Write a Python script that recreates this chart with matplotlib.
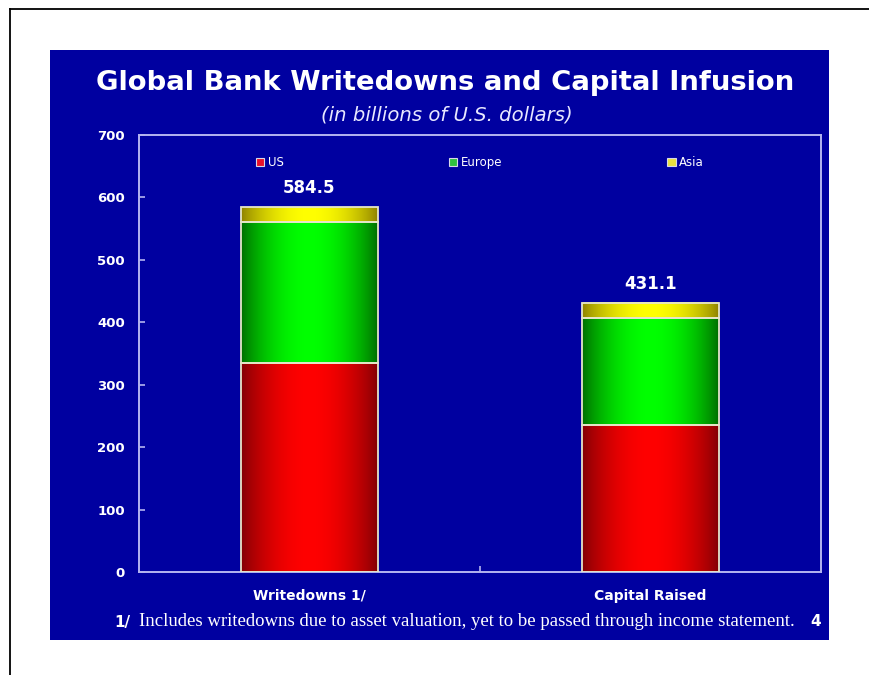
import numpy as np
import matplotlib
matplotlib.use('Agg')
import matplotlib.pyplot as plt
from matplotlib.patches import Rectangle, Patch
from matplotlib.lines import Line2D

# ---------------- data ----------------
categories = ['Writedowns 1/', 'Capital Raised']
series_names = ['US', 'Europe', 'Asia']
us_vals = [335.0, 235.0]
europe_vals = [225.5, 172.0]
asia_vals = [24.0, 24.1]
total_labels = ['584.5', '431.1']
yticks = [0, 100, 200, 300, 400, 500, 600, 700]

title = 'Global Bank Writedowns and Capital Infusion'
subtitle = '(in billions of U.S. dollars)'
footnote_mark = '1/'
footnote = 'Includes writedowns due to asset valuation, yet to be passed through income statement.'
page_no = '4'

# ---------------- style ----------------
W, H = 869, 675
BLUE = '#0000a0'
SPINE = '#b4b4f0'
bright = {'US': (1.0, 0.0, 0.0), 'Europe': (0.0, 1.0, 0.0), 'Asia': (1.0, 1.0, 0.0)}
dark = {'US': (0.50, 0.0, 0.02), 'Europe': (0.0, 0.42, 0.0), 'Asia': (0.55, 0.50, 0.0)}
legend_col = {'US': '#e8102a', 'Europe': '#30c040', 'Asia': '#e8e040'}

fig = plt.figure(figsize=(W / 100, H / 100), dpi=100)
fig.patch.set_facecolor('white')


def fx(x):
    return x / W


def fy(y):
    return 1 - y / H


# frame lines and blue panel
fig.add_artist(Line2D([fx(10), fx(869)], [fy(9), fy(9)], color='black', lw=1.3))
fig.add_artist(Line2D([fx(10), fx(10)], [fy(9), fy(675)], color='black', lw=1.3))
fig.add_artist(Rectangle((fx(50), fy(640)), fx(829) - fx(50), fy(50) - fy(640),
                         facecolor=BLUE, edgecolor='none', zorder=-1))

ax = fig.add_axes([fx(139), fy(572), (821 - 139) / W, (572 - 135) / H])
ax.set_facecolor(BLUE)

x = np.arange(len(categories))
bw = 0.40
bottoms = np.zeros(len(categories))
t = np.linspace(0, 1, 200)
prof = np.sin(np.pi * t) ** 0.8
all_patches = []
for name, vals in zip(series_names, [us_vals, europe_vals, asia_vals]):
    bars = ax.bar(x, vals, bw, bottom=bottoms, color=legend_col[name], edgecolor='none', zorder=2)
    d = np.array(dark[name])
    b = np.array(bright[name])
    grad = d[None, :] + (b - d)[None, :] * prof[:, None]
    grad = grad[None, :, :]
    for p in bars.patches:
        x0, y0, w, h = p.get_x(), p.get_y(), p.get_width(), p.get_height()
        ax.imshow(grad, extent=[x0, x0 + w, y0, y0 + h], aspect='auto',
                  interpolation='bilinear', zorder=2.5)
        all_patches.append((x0, y0, w, h))
    bottoms = bottoms + np.array(vals)

# light outlines on each segment
for (x0, y0, w, h) in all_patches:
    ax.add_patch(Rectangle((x0, y0), w, h, fill=False, edgecolor='#e6e6c8', lw=1.3, zorder=3))

ax.set_xlim(-0.5, 1.5)
ax.set_ylim(0, 700)

# value labels on top
for xi, tot, lab in zip(x, bottoms, total_labels):
    ax.annotate(lab, (xi, tot), xytext=(0, 7), textcoords='offset points',
                ha='center', va='bottom', color='white', fontsize=12,
                fontweight='bold', zorder=4)

for s in ax.spines.values():
    s.set_color(SPINE)
    s.set_linewidth(1.4)

ax.set_yticks(yticks)
ax.set_yticklabels([str(v) for v in yticks])
ax.tick_params(axis='y', direction='in', length=4, width=1.2, color=SPINE,
               labelcolor='white', labelsize=9.5, pad=10)
for lab in ax.get_yticklabels():
    lab.set_fontweight('bold')

ax.set_xticks(x)
ax.set_xticklabels(categories)
ax.tick_params(axis='x', length=0, labelcolor='white', labelsize=10, pad=12)
for lab in ax.get_xticklabels():
    lab.set_fontweight('bold')
ax.set_xticks([0.5], minor=True)
ax.tick_params(axis='x', which='minor', direction='in', length=4, width=1.2, color=SPINE)

handles = [Patch(facecolor=legend_col[n], edgecolor='#d8d8e8', linewidth=0.8) for n in series_names]
leg = ax.legend(handles, series_names, loc='center', bbox_to_anchor=(0.5, 1 - (163 - 135) / 437),
                ncol=3, frameon=False, handlelength=0.7, handleheight=0.7, handletextpad=0.3,
                columnspacing=14.0, fontsize=8.5)
for tx in leg.get_texts():
    tx.set_color('white')

# titles and footnote
t_title = fig.text(fx(445), fy(83), title, ha='center', va='center', color='white',
                   fontsize=20, fontweight='bold')
t_sub = fig.text(fx(447), fy(115), subtitle, ha='center', va='center', color='#e8e8ff',
                 fontsize=12, fontstyle='italic')
t_fm = fig.text(fx(114), fy(622), footnote_mark, ha='left', va='center', color='white',
                fontsize=11, fontweight='bold')
t_fn = fig.text(fx(139), fy(622), footnote, ha='left', va='center', color='white',
                fontsize=10.5, family='Liberation Serif')
t_pg = fig.text(fx(816), fy(622), page_no, ha='center', va='center', color='white',
                fontsize=11, fontweight='bold')

fig.canvas.draw()
r = fig.canvas.get_renderer()


def fit(tobj, target):
    w = tobj.get_window_extent(r).width
    tobj.set_fontsize(tobj.get_fontsize() * target / w)


fit(t_title, 700)
fit(t_sub, 250)
fit(t_fn, 651)

fig.savefig('out.png', dpi=100, facecolor='white')
